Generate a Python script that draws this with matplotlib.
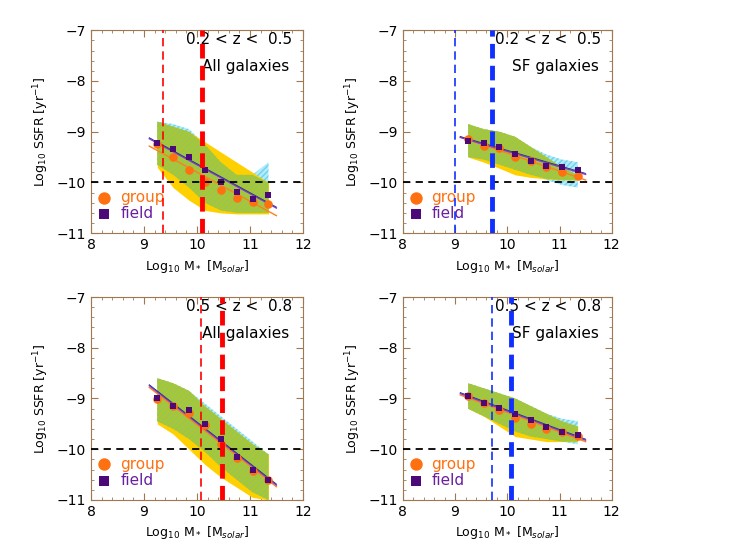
import numpy as np
import matplotlib
matplotlib.use("Agg")
import matplotlib.pyplot as plt
from matplotlib.ticker import MultipleLocator

mass = [9.25, 9.55, 9.85, 10.15, 10.45, 10.75, 11.05, 11.35]

tl_group = [-9.25, -9.5, -9.75, -10.0, -10.15, -10.3, -10.38, -10.42]
tl_field = [-9.22, -9.35, -9.5, -9.75, -10.0, -10.18, -10.32, -10.25]
tl_field_up = [-8.8, -8.85, -8.95, -9.25, -9.6, -9.85, -9.85, -9.6]
tl_field_lo = [-9.65, -9.85, -10.1, -10.4, -10.55, -10.6, -10.6, -10.6]
tl_group_up = [-8.8, -8.9, -9.0, -9.2, -9.4, -9.6, -9.8, -10.0]
tl_group_lo = [-9.7, -10.1, -10.35, -10.55, -10.6, -10.62, -10.62, -10.62]

tr_group = [-9.15, -9.28, -9.33, -9.5, -9.58, -9.7, -9.8, -9.88]
tr_field = [-9.18, -9.22, -9.3, -9.43, -9.57, -9.67, -9.7, -9.75]
tr_field_up = [-8.85, -8.95, -9.0, -9.1, -9.3, -9.45, -9.55, -9.6]
tr_field_lo = [-9.5, -9.55, -9.65, -9.75, -9.85, -9.95, -10.05, -10.1]
tr_group_up = [-8.85, -8.95, -9.0, -9.1, -9.3, -9.5, -9.7, -9.85]
tr_group_lo = [-9.5, -9.6, -9.72, -9.85, -9.9, -9.93, -9.95, -9.95]

bl_group = [-9.02, -9.15, -9.28, -9.52, -9.9, -10.18, -10.43, -10.6]
bl_field = [-9.0, -9.14, -9.23, -9.5, -9.8, -10.15, -10.4, -10.6]
bl_field_up = [-8.6, -8.7, -8.85, -9.1, -9.35, -9.6, -9.85, -10.1]
bl_field_lo = [-9.45, -9.6, -9.8, -10.05, -10.35, -10.6, -10.85, -11.0]
bl_group_up = [-8.6, -8.7, -8.85, -9.15, -9.4, -9.65, -9.9, -10.1]
bl_group_lo = [-9.5, -9.7, -10.0, -10.3, -10.55, -10.75, -10.95, -11.0]

br_group = [-8.95, -9.08, -9.22, -9.38, -9.5, -9.6, -9.67, -9.73]
br_field = [-8.95, -9.08, -9.18, -9.3, -9.43, -9.57, -9.67, -9.72]
br_field_up = [-8.7, -8.8, -8.9, -9.0, -9.15, -9.3, -9.4, -9.45]
br_field_lo = [-9.2, -9.35, -9.5, -9.65, -9.75, -9.8, -9.85, -9.9]
br_group_up = [-8.7, -8.8, -8.9, -9.0, -9.15, -9.3, -9.45, -9.55]
br_group_lo = [-9.2, -9.35, -9.55, -9.75, -9.8, -9.85, -9.85, -9.85]

panels = [
    dict(pos=[0.122, 0.576, 0.284, 0.369], g=tl_group, f=tl_field, fu=tl_field_up, fl=tl_field_lo,
         gu=tl_group_up, gl=tl_group_lo, vl=(9.35, 10.1), vc="red", z="0.2 < z <  0.5", t="All galaxies"),
    dict(pos=[0.540, 0.576, 0.280, 0.369], g=tr_group, f=tr_field, fu=tr_field_up, fl=tr_field_lo,
         gu=tr_group_up, gl=tr_group_lo, vl=(9.0, 9.7), vc="#1030ff", z="0.2 < z <  0.5", t="SF galaxies"),
    dict(pos=[0.122, 0.091, 0.284, 0.369], g=bl_group, f=bl_field, fu=bl_field_up, fl=bl_field_lo,
         gu=bl_group_up, gl=bl_group_lo, vl=(10.07, 10.47), vc="red", z="0.5 < z <  0.8", t="All galaxies"),
    dict(pos=[0.540, 0.091, 0.280, 0.369], g=br_group, f=br_field, fu=br_field_up, fl=br_field_lo,
         gu=br_group_up, gl=br_group_lo, vl=(9.7, 10.07), vc="#1030ff", z="0.5 < z <  0.8", t="SF galaxies"),
]

fig = plt.figure(figsize=(7.46, 5.5), dpi=100)
frame = "#a07850"
x = np.array(mass)
for p in panels:
    ax = fig.add_axes(p["pos"])
    fu, fl, gu, gl = map(np.array, (p["fu"], p["fl"], p["gu"], p["gl"]))
    ax.fill_between(x, fl, fu, color="#b0ecfa", hatch="//////", edgecolor="#70d0f0", linewidth=0, zorder=1)
    ax.fill_between(x, gl, gu, color="#ffd000", linewidth=0, zorder=2)
    ax.fill_between(x, np.maximum(fl, gl), np.minimum(fu, gu), color="#a8c830", hatch="//////",
                    edgecolor="#98c460", linewidth=0, zorder=3)
    xx = np.array([9.1, 11.5])
    cg = np.polyfit(x, p["g"], 1)
    cf = np.polyfit(x, p["f"], 1)
    ax.plot(xx, np.polyval(cg, xx), color="#ff7f20", lw=1, zorder=4)
    ax.plot(xx, np.polyval(cf, xx), color="#8a3ad0", lw=1, zorder=4)
    ax.plot(xx, np.polyval(cf, xx) + 0.02, color="#203080", lw=0.6, zorder=4)
    ax.scatter(x, p["g"], s=38, color="#ff7010", linewidths=0, zorder=5)
    ax.scatter(x, p["f"], s=20, marker="s", color="#4b0a78", linewidths=0, zorder=6)
    ax.axhline(-10, color="black", ls=(0, (4, 3)), lw=1.3, zorder=7)
    ax.axvline(p["vl"][0], color=p["vc"], ls=(0, (5, 3)), lw=1.2, zorder=7)
    ax.axvline(p["vl"][1], color=p["vc"], ls=(0, (3, 1.5)), lw=3.5, zorder=7)
    ax.set_xlim(8, 12)
    ax.set_ylim(-11, -7)
    ax.xaxis.set_major_locator(MultipleLocator(1))
    ax.yaxis.set_major_locator(MultipleLocator(1))
    ax.xaxis.set_minor_locator(MultipleLocator(0.2))
    ax.yaxis.set_minor_locator(MultipleLocator(0.2))
    ax.tick_params(which="both", direction="in", top=True, right=True, color=frame, labelsize=10)
    ax.tick_params(which="major", length=5)
    ax.tick_params(which="minor", length=2.5)
    for s in ax.spines.values():
        s.set_color(frame)
    ax.set_xlabel(r"Log$_{10}$ M$_*$ [M$_{solar}$]", fontsize=9)
    ax.set_ylabel(r"Log$_{10}$ SSFR [yr$^{-1}$]", fontsize=9)
    ax.text(11.8, -7.18, p["z"], ha="right", va="center", fontsize=11)
    ax.text(11.75, -7.72, p["t"], ha="right", va="center", fontsize=11)
    ax.scatter([8.25], [-10.3], s=80, color="#ff7010", linewidths=0)
    ax.scatter([8.25], [-10.62], s=55, marker="s", color="#4b0a78", linewidths=0)
    ax.text(8.55, -10.3, "group", color="#ff7010", fontsize=11, va="center")
    ax.text(8.55, -10.62, "field", color="#6a1fa0", fontsize=11, va="center")

fig.savefig("out.png", dpi=100)
